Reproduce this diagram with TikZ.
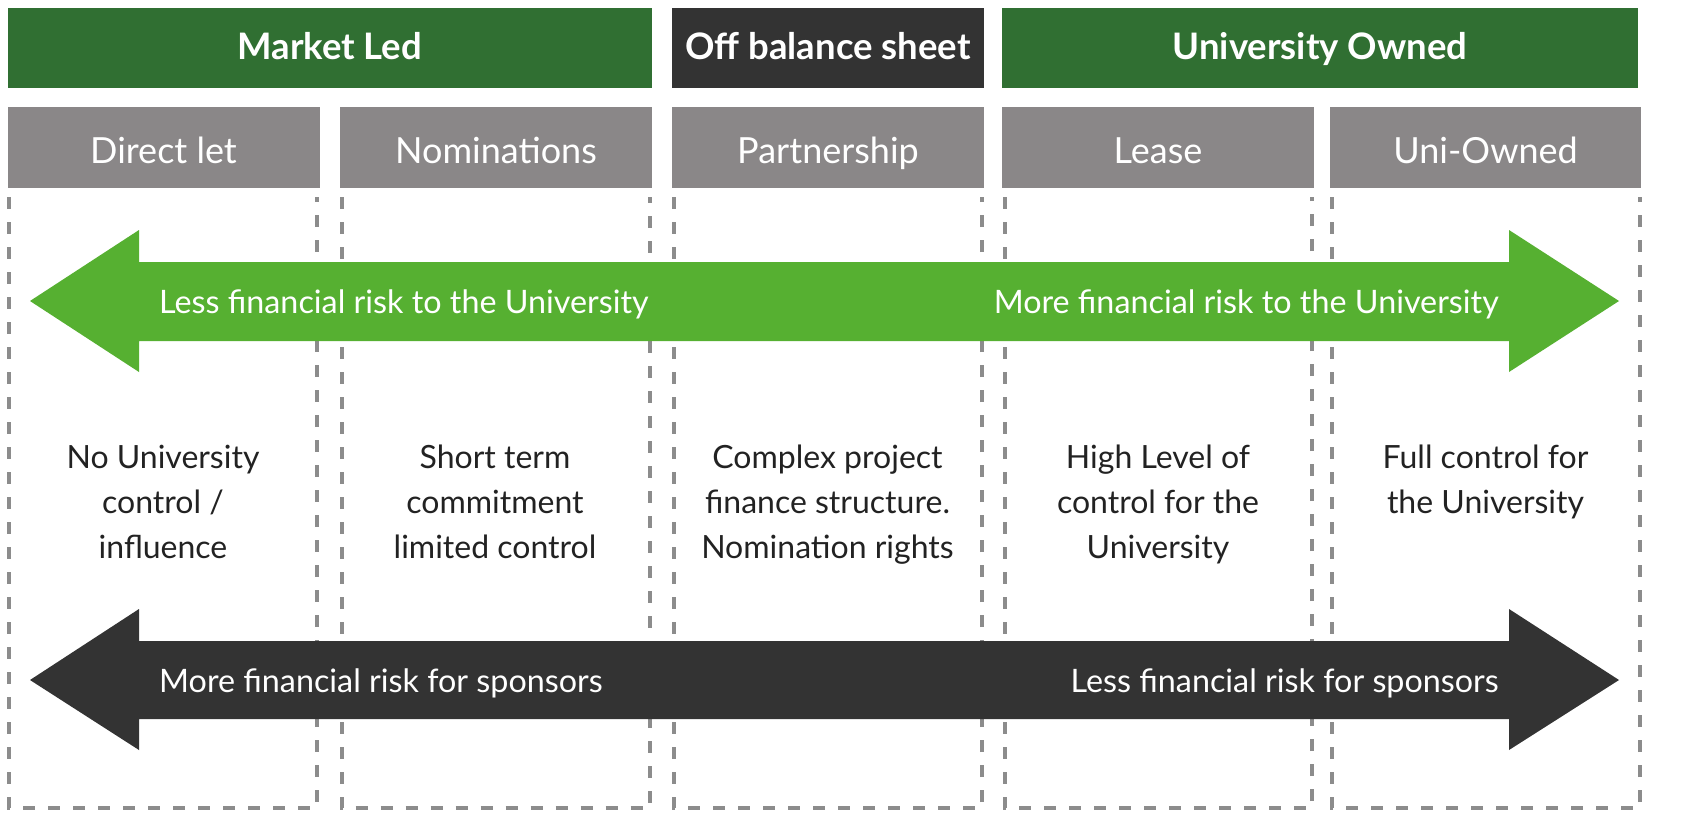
\documentclass[tikz,border=0pt]{standalone}
\usepackage{fontspec}
\setmainfont{Lato}
\definecolor{mgreen}{RGB}{48,111,50}
\definecolor{dgrey}{RGB}{51,51,51}
\definecolor{lgrey}{RGB}{138,135,136}
\definecolor{agreen}{RGB}{86,176,49}
\definecolor{dashgrey}{RGB}{140,140,140}
\definecolor{bodytext}{RGB}{34,34,34}
\begin{document}
\begin{tikzpicture}[x=1pt,y=-1pt,
  hdrbox/.style={inner sep=0pt, minimum height=80.5pt, text=white,
    text height=23pt, text depth=0pt,
    font=\fontsize{36.5}{40}\selectfont\bfseries},
  catbox/.style={inner sep=0pt, fill=lgrey, minimum height=81pt, text=white,
    text height=31pt, text depth=0pt,
    font=\fontsize{36}{40}\selectfont},
  dashline/.style={draw=dashgrey, line width=4pt, dash pattern=on 12pt off 13pt},
  arrowtext/.style={inner sep=0pt, text=white, font=\fontsize{32.3}{36}\selectfont},
  bodynode/.style={inner sep=0pt, align=center, anchor=north, text=bodytext,
    font=\fontsize{32}{45}\selectfont}]
\useasboundingbox (0,0) rectangle (1681,830);
\fill[white] (0,0) rectangle (1681,830);
% dashed columns
\foreach \a/\b in {9/316.5, 341.5/650, 674/982, 1005/1312, 1332/1640}
  \draw[dashline] (\a,197) -- (\a,808) -- (\b,808) -- (\b,197);
% headers
\node[hdrbox, fill=mgreen, minimum width=644.5pt] (ml) at (329.75,47.75) {Market Led};
\node[hdrbox, fill=dgrey, minimum width=312pt] (obs) at (828,47.75) {Off balance sheet};
\node[hdrbox, fill=mgreen, minimum width=636pt] (uo) at (1320,47.75) {University Owned};
% category boxes
\node[catbox, minimum width=312pt] (dl) at (163.5,147.5) {Direct let};
\node[catbox, minimum width=312pt] (nom) at (496,147.5) {Nominations};
\node[catbox, minimum width=312pt] (par) at (828,147.5) {Partnership};
\node[catbox, minimum width=312pt] (lea) at (1158,147.5) {Lease};
\node[catbox, minimum width=311pt] (uni) at (1485.5,147.5) {Uni-Owned};
% green arrow
\fill[agreen] (30,301) -- (139,230) -- (139,262) -- (1509,262) -- (1509,230) -- (1619,301)
  -- (1509,372) -- (1509,341) -- (139,341) -- (139,372) -- cycle;
\node[arrowtext, anchor=base west] (gl) at (159,313) {Less financial risk to the University};
\node[arrowtext, anchor=base east] (gr) at (1499,313) {More financial risk to the University};
% dark arrow
\fill[dgrey] (30,680) -- (139,609) -- (139,641) -- (1509,641) -- (1509,609) -- (1619,680)
  -- (1509,750) -- (1509,719) -- (139,719) -- (139,750) -- cycle;
\node[arrowtext, anchor=base west] (bl) at (159,692) {More financial risk for sponsors};
\node[arrowtext, anchor=base east] (br) at (1499,692) {Less financial risk for sponsors};
% body texts
\node[bodynode] (t1) at (163,444.5) {No University\\control /\\influence};
\node[bodynode] (t2) at (495,444.5) {Short term\\commitment\\limited control};
\node[bodynode] (t3) at (827.5,444.5) {Complex project\\finance structure.\\Nomination rights};
\node[bodynode] (t4) at (1158,444.5) {High Level of\\control for the\\University};
\node[bodynode] (t5) at (1485.5,444.5) {Full control for\\the University};
\end{tikzpicture}
\end{document}
